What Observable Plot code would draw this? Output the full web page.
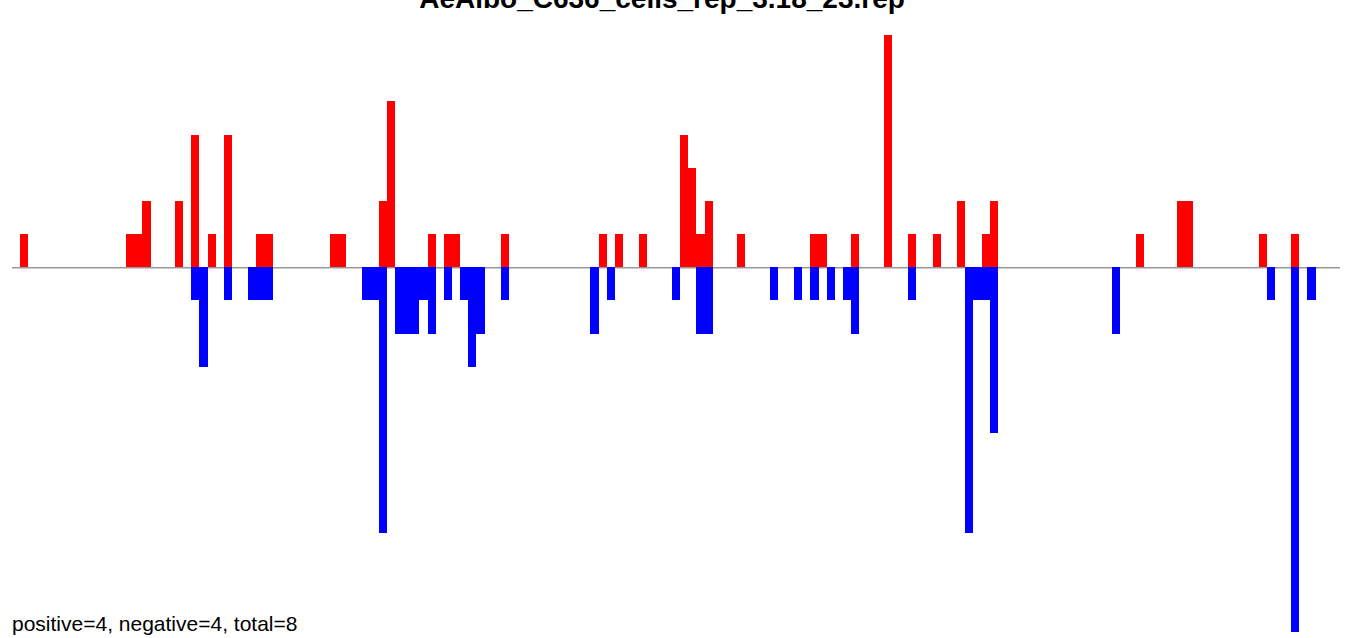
<!DOCTYPE html>
<html>
<head>
<meta charset="utf-8">
<script src="https://cdn.jsdelivr.net/npm/d3@7"></script>
<script src="https://cdn.jsdelivr.net/npm/@observablehq/plot@0.6"></script>
<style>
  html, body { margin: 0; padding: 0; background: #fff; }
  #chart { position: relative; width: 1347px; height: 638px; overflow: hidden; }
</style>
</head>
<body>
<div id="chart"></div>
<script>
// Bin positions (index along the sequence) and counts
const titleText = "AeAlbo_C636_cells_rep_3.18_23.rep";
const footerText = "positive=4, negative=4, total=8";
const binCount = 163;

const posBins = [1, 14, 15, 16, 20, 22, 24, 26, 30, 31, 39, 40, 45, 46, 51, 53, 54, 60, 72, 74, 77,
                 82, 83, 84, 85, 89, 98, 99, 103, 107, 110, 113, 116, 119, 120, 138, 143, 144, 153, 157];
const posCounts = [1, 1, 1, 2, 2, 4, 1, 4, 1, 1, 1, 1, 2, 5, 1, 1, 1, 1, 1, 1, 1,
                   4, 3, 1, 2, 1, 1, 1, 1, 7, 1, 1, 2, 1, 2, 1, 2, 2, 1, 1];

const negBins = [22, 23, 26, 29, 30, 31, 43, 44, 45, 47, 48, 49, 50, 51, 53, 55, 56, 57, 60, 71, 73,
                 81, 84, 85, 93, 96, 98, 100, 102, 103, 110, 117, 118, 119, 120, 135, 154, 157, 159];
const negCounts = [1, 3, 1, 1, 1, 1, 1, 1, 8, 2, 2, 2, 1, 2, 1, 1, 3, 2, 1, 2, 1,
                   1, 2, 2, 1, 1, 1, 1, 1, 2, 1, 8, 1, 1, 5, 2, 1, 11, 1];

const pos = posBins.map((b, i) => ({bin: b, value: posCounts[i]}));
const neg = negBins.map((b, i) => ({bin: b, value: -negCounts[i]}));

const plot = Plot.plot({
  width: 1347,
  height: 638,
  marginLeft: 12,
  marginRight: 7,
  marginTop: 35,
  marginBottom: 6,
  x: {domain: [0, binCount], axis: null},
  y: {domain: [-11, 7], axis: null},
  style: {background: "#fff"},
  marks: [
    Plot.ruleY([0], {stroke: "#999999", strokeWidth: 1.5}),
    Plot.rectY(pos, {x1: "bin", x2: d => d.bin + 1, y: "value", fill: "#ff0000", inset: 0, shapeRendering: "crispEdges"}),
    Plot.rectY(neg, {x1: "bin", x2: d => d.bin + 1, y: "value", fill: "#0000ff", inset: 0, shapeRendering: "crispEdges"})
  ]
});

const svg = d3.select(plot);
svg.append("text")
  .attr("x", 662).attr("y", 8)
  .attr("text-anchor", "middle")
  .attr("font-family", "Liberation Sans, Arial, sans-serif")
  .attr("font-weight", "bold")
  .attr("font-size", 28)
  .attr("fill", "#000")
  .text(titleText);
svg.append("text")
  .attr("x", 12).attr("y", 631)
  .attr("text-anchor", "start")
  .attr("font-family", "Liberation Sans, Arial, sans-serif")
  .attr("font-size", 21)
  .attr("fill", "#000")
  .text(footerText);

document.getElementById("chart").appendChild(plot);
</script>
</body>
</html>
